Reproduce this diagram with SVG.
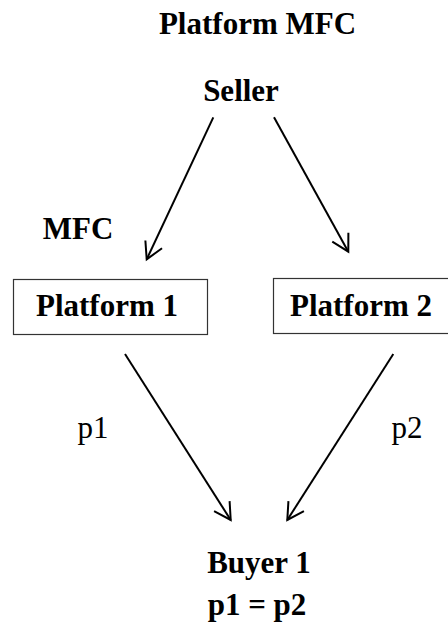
<svg xmlns="http://www.w3.org/2000/svg" width="448" height="628" viewBox="0 0 448 628">
<style>
.b{font-family:"Liberation Serif","Times New Roman",serif;font-weight:bold;font-size:31px;fill:#000;text-anchor:middle}
.r{font-family:"Liberation Serif","Times New Roman",serif;font-size:31px;fill:#000;text-anchor:middle}
.box{fill:#fff;stroke:#333;stroke-width:1.2}
.edge{stroke:#000;stroke-width:2;fill:none;marker-end:url(#ah)}
</style>
<defs>
<marker id="ah" markerUnits="userSpaceOnUse" orient="auto" refX="0" refY="0" markerWidth="40" markerHeight="40" viewBox="-20 -20 40 40" overflow="visible">
<path d="M-16.5,-9.2 L0,0 L-16.5,9.2" fill="none" stroke="#000" stroke-width="2"/>
</marker>
</defs>
<rect width="448" height="628" fill="#fff"/>
<text id="title" class="b" x="257.5" y="34">Platform MFC</text>
<g id="seller"><text class="b" x="241" y="101">Seller</text></g>
<text id="mfc" class="b" x="78" y="239">MFC</text>
<g id="platform1"><rect class="box" x="13.5" y="279.5" width="194" height="55"/><text class="b" x="107" y="316">Platform 1</text></g>
<g id="platform2"><rect class="box" x="273.5" y="278.5" width="180" height="55"/><text class="b" x="361" y="316">Platform 2</text></g>
<g id="buyer1"><text class="b" x="259" y="573">Buyer 1</text><text class="b" x="257" y="615">p1 = p2</text></g>
<g id="connectors">
<line class="edge" x1="213.3" y1="117.3" x2="146.7" y2="259.3"/>
<line class="edge" x1="274" y1="117.3" x2="348.3" y2="251.7"/>
<line class="edge" x1="125" y1="354" x2="230.7" y2="520"/>
<line class="edge" x1="393.3" y1="354" x2="287.3" y2="520"/>
<text class="r" x="93" y="438">p1</text>
<text class="r" x="407" y="438">p2</text>
</g>
</svg>
